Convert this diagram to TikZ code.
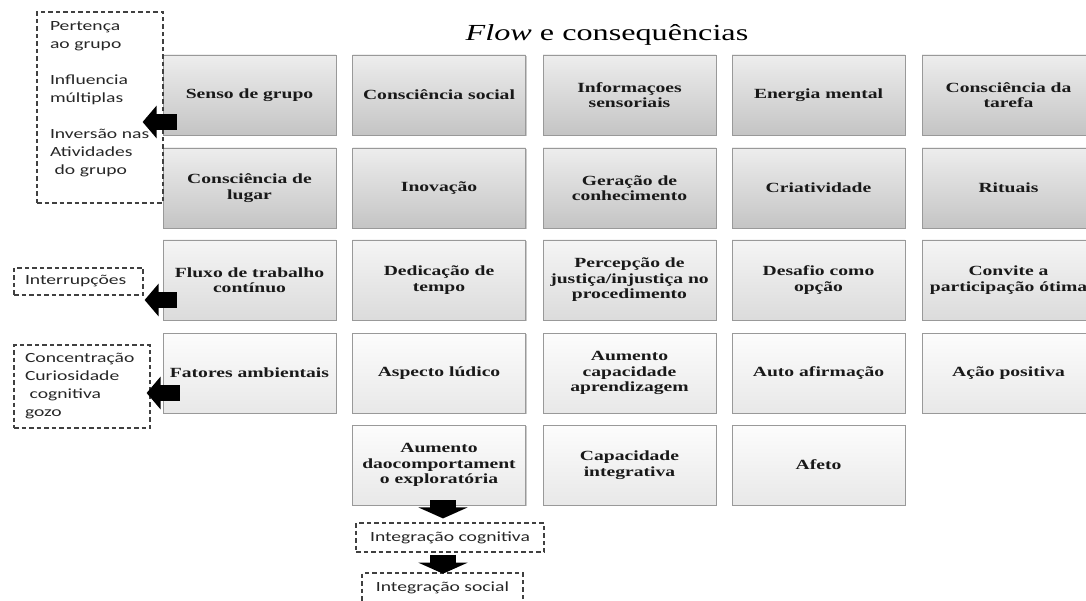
\documentclass[tikz,border=0pt]{standalone}
\usepackage{fontspec}
\usetikzlibrary{arrows.meta,shadows,calc}
\newfontfamily\cellfont[FakeStretch=1.4]{Liberation Serif}
\newfontfamily\headfont[FakeStretch=1.4]{Liberation Serif}
\newfontfamily\notefont[FakeStretch=1.4]{Carlito}

\tikzset{
  cell/.style={draw=black!40, line width=0.8pt, minimum width=173pt, minimum height=80pt,
    inner sep=2pt, align=center, text=black!90,
    font=\cellfont\bfseries\fontsize{14}{15.5}\selectfont,
    drop shadow={shadow xshift=1.2pt, shadow yshift=-1.2pt, opacity=0.45, fill=black!45}},
  dark/.style={cell, top color=black!7, bottom color=black!23},
  mid/.style={cell, top color=black!4, bottom color=black!14},
  light/.style={cell, top color=black!1, bottom color=black!9},
  notebox/.style={draw=black!75, dash pattern=on 4.5pt off 3pt, line width=1.3pt,
    font=\notefont\fontsize{14}{18}\selectfont, text=black!85, inner ysep=0pt},
  leftarrow/.style={black, line width=16pt, -{Triangle[length=14pt,width=32pt]}},
  downarrow/.style={black, line width=26pt, -{Triangle[length=11pt,width=49pt]}}
}

\begin{document}
\begin{tikzpicture}[x=1pt,y=-1pt]
\useasboundingbox (0,0) rectangle (1086,601);

% title
\node (title) at (607,35) {\headfont\fontsize{23}{27}\selectfont\textit{Flow} e consequências};

% row 1
\node[dark] (c11) at (249.5,95) {Senso de grupo};
\node[dark] (c12) at (439,95) {Consciência social};
\node[dark] (c13) at (629.5,95) {Informaçoes\\sensoriais};
\node[dark] (c14) at (818.5,95) {Energia mental};
\node[dark] (c15) at (1008.5,95) {Consciência da\\tarefa};

% row 2
\node[dark] (c21) at (249.5,188) {Consciência de\\lugar};
\node[dark] (c22) at (439,188) {Inovação};
\node[dark] (c23) at (629.5,188) {Geração de\\conhecimento};
\node[dark] (c24) at (818.5,188) {Criatividade};
\node[dark] (c25) at (1008.5,188) {Rituais};

% row 3
\node[mid] (c31) at (249.5,280) {Fluxo de trabalho\\contínuo};
\node[mid] (c32) at (439,280) {Dedicação de\\tempo};
\node[mid] (c33) at (629.5,280) {Percepção de\\justiça/injustiça no\\procedimento};
\node[mid] (c34) at (818.5,280) {Desafio como\\opção};
\node[mid] (c35) at (1008.5,280) {Convite a\\participação ótima};

% row 4
\node[light] (c41) at (249.5,373) {Fatores ambientais};
\node[light] (c42) at (439,373) {Aspecto lúdico};
\node[light] (c43) at (629.5,373) {Aumento\\capacidade\\aprendizagem};
\node[light] (c44) at (818.5,373) {Auto afirmação};
\node[light] (c45) at (1008.5,373) {Ação positiva};

% row 5
\node[light] (c52) at (439,465) {Aumento\\daocomportament\\o exploratória};
\node[light] (c53) at (629.5,465) {Capacidade\\integrativa};
\node[light] (c54) at (818.5,465) {Afeto};

% dashed outcome boxes
\node[notebox, minimum width=126pt, minimum height=191pt, text width=100pt, inner xsep=13pt, align=left]
  (n1) at (100,107.5) {Pertença\\ao grupo\\[18pt]Influencia\\múltiplas\\[18pt]Inversão nas\\Atividades\\~do grupo\\~};
\node[notebox, minimum width=129pt, minimum height=27pt, text width=107pt, inner xsep=11pt, align=left]
  (n2) at (78.5,281.5) {Interrupções};
\node[notebox, minimum width=136pt, minimum height=83pt, text width=114pt, inner xsep=11pt, align=left]
  (n3) at (82,386.5) {Concentração\\Curiosidade\\~cognitiva\\gozo};
\node[notebox, minimum width=188pt, minimum height=29pt, align=center]
  (n4) at (450,537.5) {Integração cognitiva};
\node[notebox, minimum width=161pt, minimum height=30pt, align=center]
  (n5) at (442.5,588) {Integração social};

% block arrows
\draw[leftarrow] ([shift={(14pt,-27pt)}]c11.west) -- ([shift={(-20pt,-27pt)}]c11.west);
\draw[leftarrow] ([shift={(14pt,-20pt)}]c31.west) -- ([shift={(-18pt,-20pt)}]c31.west);
\draw[leftarrow] ([shift={(17pt,-20pt)}]c41.west) -- ([shift={(-16pt,-20pt)}]c41.west);
\draw[downarrow] ([shift={(4pt,5pt)}]c52.south) -- ([shift={(4pt,-13pt)}]c52.south);
\draw[downarrow] ([shift={(-7pt,-2pt)}]n4.south) -- ([shift={(-7pt,-21pt)}]n4.south);
\end{tikzpicture}
\end{document}
